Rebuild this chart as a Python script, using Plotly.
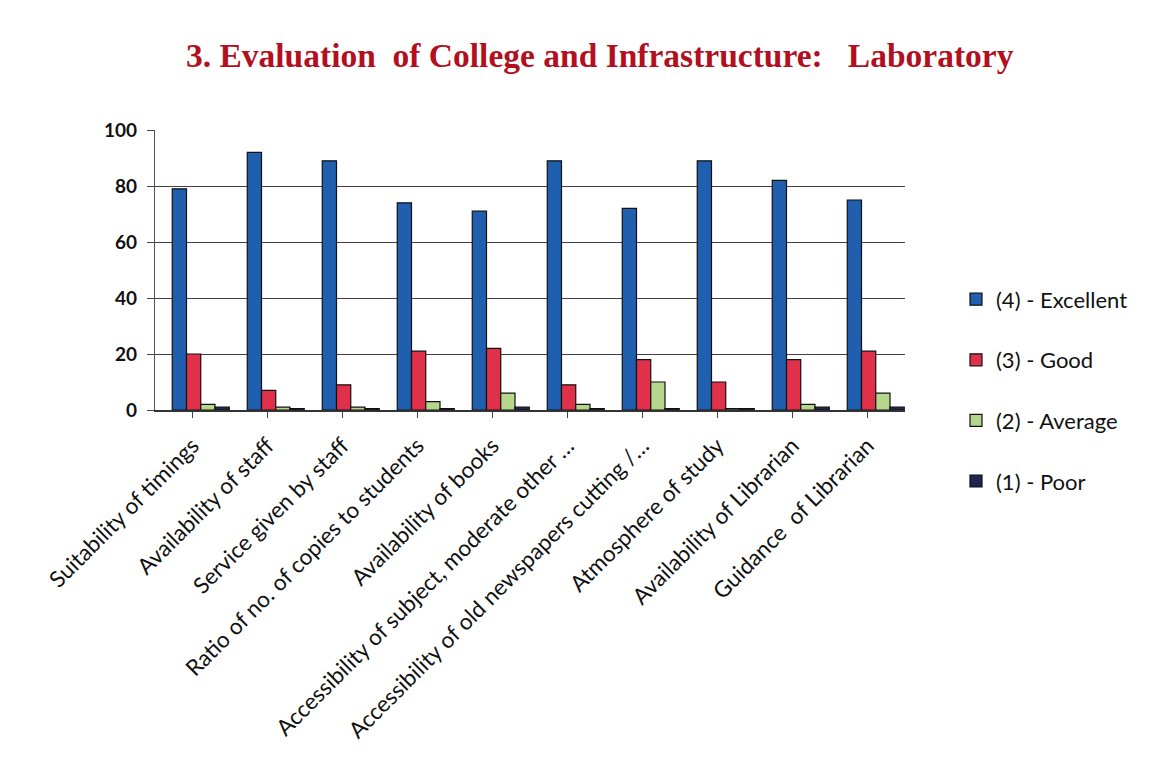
import plotly.graph_objects as go

categories = [
    "Suitability of timings",
    "Availability of staff",
    "Service given by staff",
    "Ratio of no. of copies to students",
    "Availability of books",
    "Accessibility of subject, moderate other \u2026",
    "Accessibility of old newspapers cutting /\u2026",
    "Atmosphere of study",
    "Availability of Librarian",
    "Guidance  of Librarian",
]
excellent = [79, 92, 89, 74, 71, 89, 72, 89, 82, 75]
good = [20, 7, 9, 21, 22, 9, 18, 10, 18, 21]
average = [2, 1, 1, 3, 6, 2, 10, 0.5, 2, 6]
poor = [1, 0.5, 0.5, 0.5, 1, 0.5, 0.5, 0.5, 1, 1]

series_names = ["(4) - Excellent", "(3) - Good", "(2) - Average", "(1) - Poor"]
series_values = [excellent, good, average, poor]
series_colors = ["#1f5fae", "#e0304a", "#b5d68c", "#23234f"]
bar_offsets = [-0.27, -0.08, 0.11, 0.30]
bar_width = 0.19

fig = go.Figure()
for i, (name, vals, col, off) in enumerate(zip(series_names, series_values, series_colors, bar_offsets)):
    fig.add_trace(go.Bar(
        x=categories, y=vals, name=name, legendgroup=str(i),
        offset=off, width=bar_width,
        marker=dict(color=col, line=dict(color="#111111", width=1.2)),
    ))

fig.update_layout(
    width=1158, height=771,
    paper_bgcolor="white", plot_bgcolor="white",
    barmode="overlay",
    margin=dict(l=147, r=261, t=122, b=369),
    title=dict(
        text="3. Evaluation  of College and Infrastructure:   Laboratory",
        x=0.511, xanchor="center", y=0.939, yanchor="middle",
        font=dict(family="Liberation Serif", size=33.5, color="#b3101f", weight="bold"),
    ),
    legend=dict(
        x=1.068, xanchor="left", y=0.47, yanchor="top",
        font=dict(family="Lato", size=22, color="#111111"),
        tracegroupgap=29, itemwidth=30, traceorder="grouped",
    ),
    font=dict(family="Lato", color="#111111"),
)
fig.update_yaxes(
    range=[0, 100], dtick=20, showgrid=True, gridcolor="#4a3a4a", gridwidth=1.2,
    showline=True, linecolor="#555555", linewidth=1.2, ticks="outside", ticklen=7,
    ticklabelstandoff=6,
    tickfont=dict(family="Lato", size=19, color="#111111", weight="bold"),
    zeroline=False,
)
fig.update_xaxes(
    tickangle=-45, showline=True, linecolor="#333333", linewidth=1.5,
    ticks="outside", ticklen=6, ticklabelstandoff=6,
    tickfont=dict(family="Lato", size=22.5, color="#111111"),
)

fig.write_html("out.html")
